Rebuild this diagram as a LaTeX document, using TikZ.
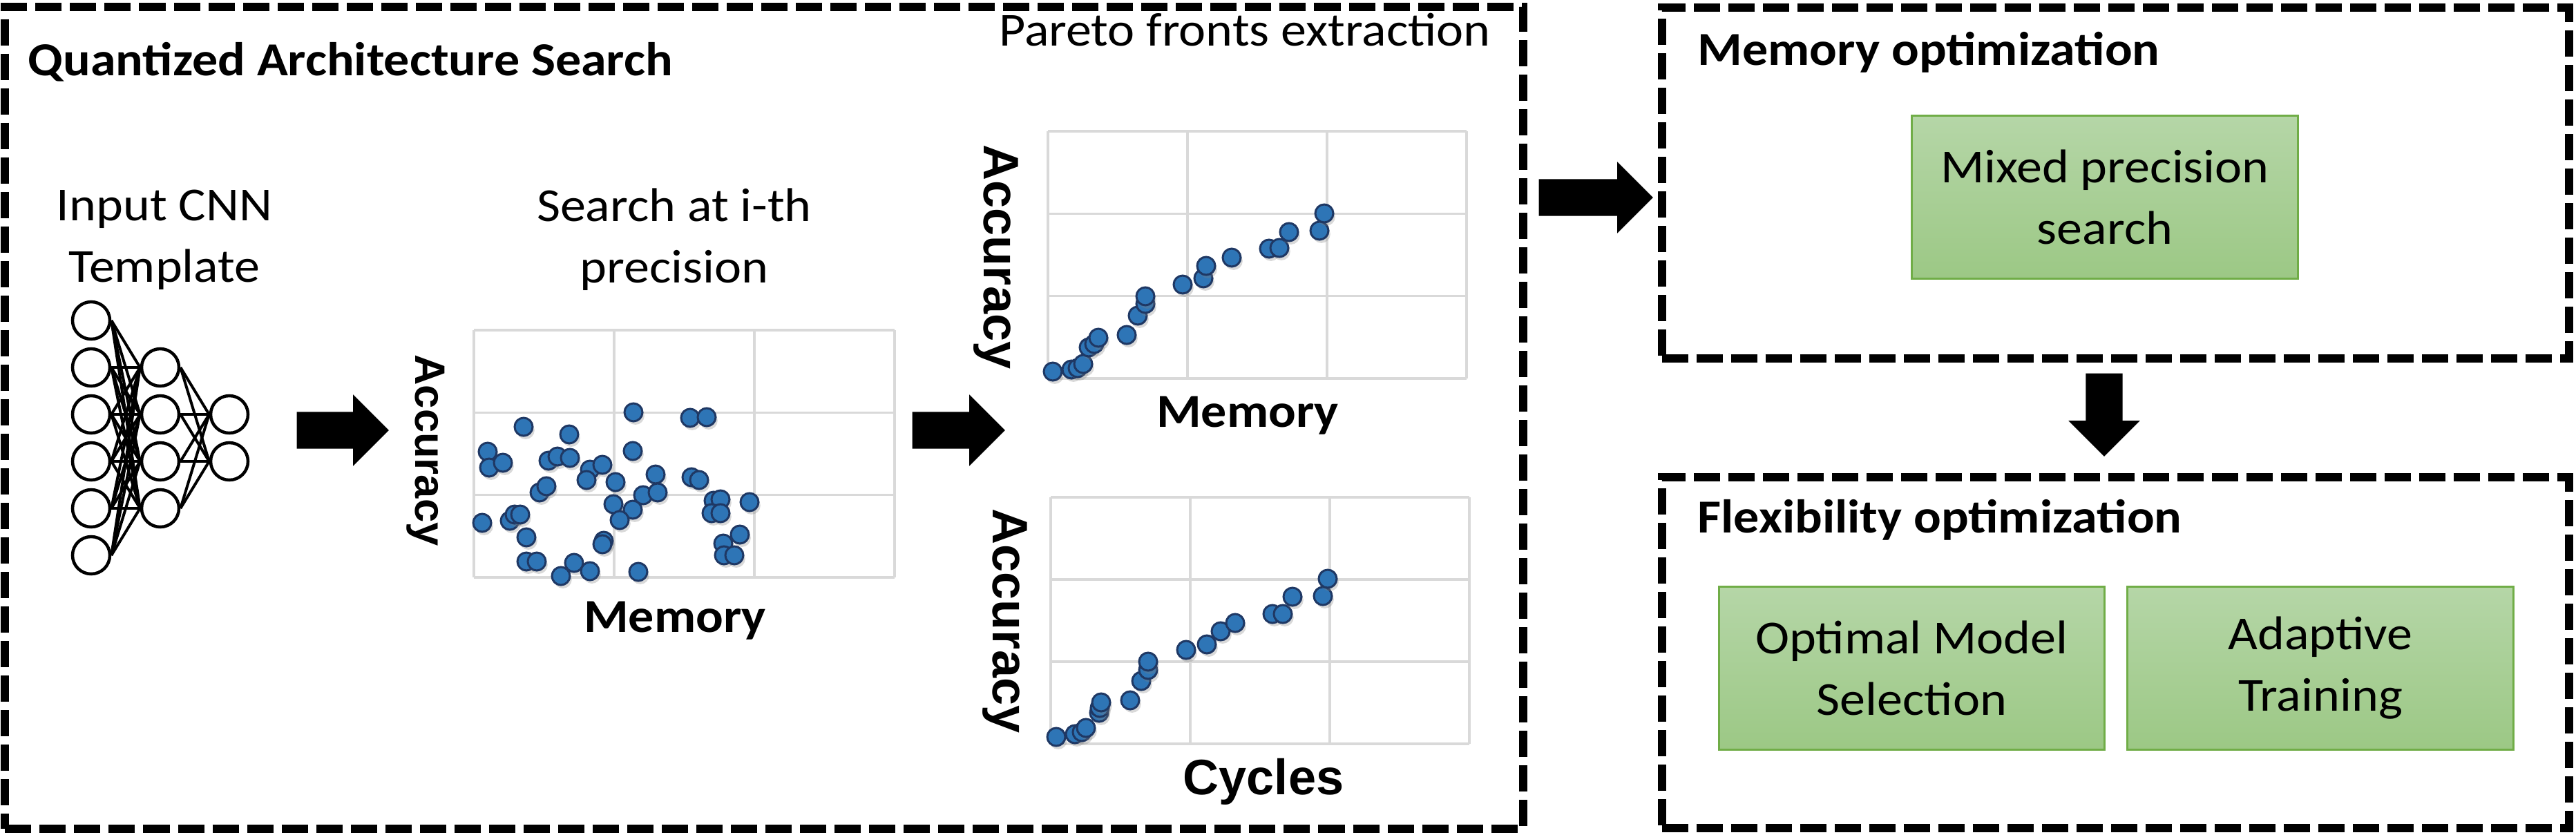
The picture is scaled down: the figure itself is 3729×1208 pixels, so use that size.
\documentclass[tikz,border=0pt]{standalone}
\usepackage{fontspec}
\setmainfont{Carlito}[FakeStretch=1.08]
\newfontfamily\arialfont{Liberation Sans}
\usetikzlibrary{shapes.arrows,shadows}

\definecolor{dotblue}{HTML}{2E75B6}
\definecolor{dotedge}{HTML}{1F3864}
\definecolor{boxtop}{HTML}{B5D6A7}
\definecolor{boxbottom}{HTML}{9CC885}
\definecolor{boxedge}{HTML}{70AD47}
\definecolor{gridgray}{HTML}{D9D9D9}

\newcommand\figfont{\fontsize{19.5}{25.3}\selectfont}

\tikzset{
  dashbox/.style={draw, line width=0.12cm, dash pattern=on 0.38cm off 0.12cm, inner sep=0},
  greenbox/.style={draw=boxedge, line width=0.03cm, top color=boxtop, bottom color=boxbottom,
    minimum width=5.58cm, minimum height=2.35cm, align=center, font=\figfont},
  txt/.style={inner sep=0, align=center, font=\figfont},
  heading/.style={inner sep=0, anchor=base west, font=\figfont\bfseries},
  axislabel/.style={inner sep=0, font=\arialfont\bfseries\fontsize{20.5}{24}\selectfont},
  blockarrow/.style={single arrow, fill=black, draw=none, inner xsep=0, inner ysep=0.26cm,
    single arrow head extend=0.25cm, single arrow tip angle=90, anchor=tail},
  neuron/.style={circle, draw, line width=0.045cm, minimum size=0.54cm, inner sep=0},
  synapse/.style={line width=0.04cm},
  gridline/.style={draw=gridgray, line width=0.035cm},
  dot/.style={circle, fill=dotblue, draw=dotedge, line width=0.03cm, minimum size=0.26cm, inner sep=0,
    drop shadow={shadow xshift=0.8pt, shadow yshift=-1.4pt, opacity=.3}}
}

\begin{document}
\begin{tikzpicture}[x=0.01cm,y=-0.01cm]
\useasboundingbox (0,0) rectangle (3729,1208);

% stage boxes
\node[dashbox, minimum width=21.96cm, minimum height=11.9cm] (qas) at (1106,605) {};
\node[dashbox, minimum width=13.13cm, minimum height=5.08cm] (memopt) at (3062.5,265) {};
\node[dashbox, minimum width=13.13cm, minimum height=5.08cm] (flexopt) at (3062.5,945) {};

\node[heading] (qastitle) at (40,109) {Quantized Architecture Search};
\node[heading] (memtitle) at (2457,94) {Memory optimization};
\node[heading] (flextitle) at (2457,771) {Flexibility optimization};

% input network
\node[txt, anchor=north] (cnntext) at (238,274) {Input CNN\\Template};
\foreach \y [count=\i] in {464,532,600,668,736,804}
  \node[neuron] (a\i) at (132,\y) {};
\foreach \y [count=\i] in {532,600,668,736}
  \node[neuron] (b\i) at (232,\y) {};
\foreach \y [count=\i] in {600,668}
  \node[neuron] (c\i) at (332,\y) {};
\foreach \i in {1,...,6}
  \foreach \j in {1,...,4}
    \draw[synapse] (a\i.east) -- (b\j.west);
\foreach \i in {1,...,4}
  \foreach \j in {1,2}
    \draw[synapse] (b\i.east) -- (c\j.west);

% plot grids
\foreach \gx/\gy/\gw/\gh in {686/478/203/119.3, 1517/190/202/119.3, 1521/720/202/119}
  \foreach \k in {0,...,3} {
    \draw[gridline] (\gx+\k*\gw,\gy) -- (\gx+\k*\gw,\gy+3*\gh);
    \draw[gridline] (\gx,\gy+\k*\gh) -- (\gx+3*\gw,\gy+\k*\gh);
  }

% search at i-th precision
\node[txt, anchor=north] (searchtext) at (976,272) {Search at i-th\\precision};
\foreach \x/\y [count=\i] in {917/597, 999/605, 1023/604, 758/618, 824/629, 916/653, 706/654,
    708/677, 728/670, 794/667, 807/661, 825/663, 854/680, 872/673, 849/695, 891/698, 949/687,
    1001/691, 1012/695, 781/713, 791/704, 931/717, 952/713, 888/730, 916/738, 897/753,
    1033/725, 1043/723, 1030/743, 1043/743, 1085/727, 698/757, 738/754, 745/745, 753/745,
    762/778, 874/783, 872/788, 1047/787, 1071/774, 1048/804, 1063/804, 762/813, 777/813,
    831/815, 812/834, 854/827, 924/828}
  \node[dot] (s\i) at (\x,\y) {};
\node[axislabel, rotate=-90, font=\arialfont\bfseries\fontsize{17.5}{20}\selectfont] (sacc) at (616,652) {Accuracy};
\node[txt, anchor=base, font=\figfont\bfseries] (smem) at (977,915) {Memory};

% pareto fronts
\node[txt, anchor=base] (paretotext) at (1802,66) {Pareto fronts extraction};
\foreach \x/\y [count=\i] in {1524/538, 1551/535, 1560/533, 1568/527, 1576/503, 1584/498,
    1590/489, 1631/485, 1647/457, 1658/440, 1658/429, 1712/412, 1742/403, 1746/385,
    1783/373, 1837/360, 1852/359, 1866/336, 1910/334, 1917/309}
  \node[dot] (p\i) at (\x,\y) {};
\node[axislabel, rotate=-90] (pacc) at (1442,372) {Accuracy};
\node[txt, anchor=base, font=\figfont\bfseries] (pmem) at (1806,618) {Memory};

\foreach \x/\y [count=\i] in {1529/1067, 1556/1063, 1566/1060, 1572/1054, 1591/1032, 1592/1025,
    1594/1017, 1636/1014, 1652/986, 1662/970, 1662/958, 1717/941, 1747/933, 1767/914,
    1788/902, 1842/889, 1857/889, 1871/864, 1915/863, 1922/838}
  \node[dot] (q\i) at (\x,\y) {};
\node[axislabel, rotate=-90] (qacc) at (1455,899) {Accuracy};
\node[axislabel, anchor=base] (qcyc) at (1829,1150) {Cycles};

% optimization steps
\node[greenbox] (mixed) at (3047,285.5) {Mixed precision\\search};
\node[greenbox] (optsel) at (2767.5,967.5) {Optimal Model\\Selection};
\node[greenbox] (adapt) at (3359,967.5) {Adaptive\\Training};

% flow arrows
\node[blockarrow, minimum height=1.33cm] (arr1) at (429,623) {};
\node[blockarrow, minimum height=1.34cm] (arr2) at (1320,623) {};
\node[blockarrow, minimum height=1.65cm] (arr3) at (2227,286) {};
\node[blockarrow, minimum height=1.2cm, rotate=-90] (arr4) at (3046,540) {};
\end{tikzpicture}
\end{document}
